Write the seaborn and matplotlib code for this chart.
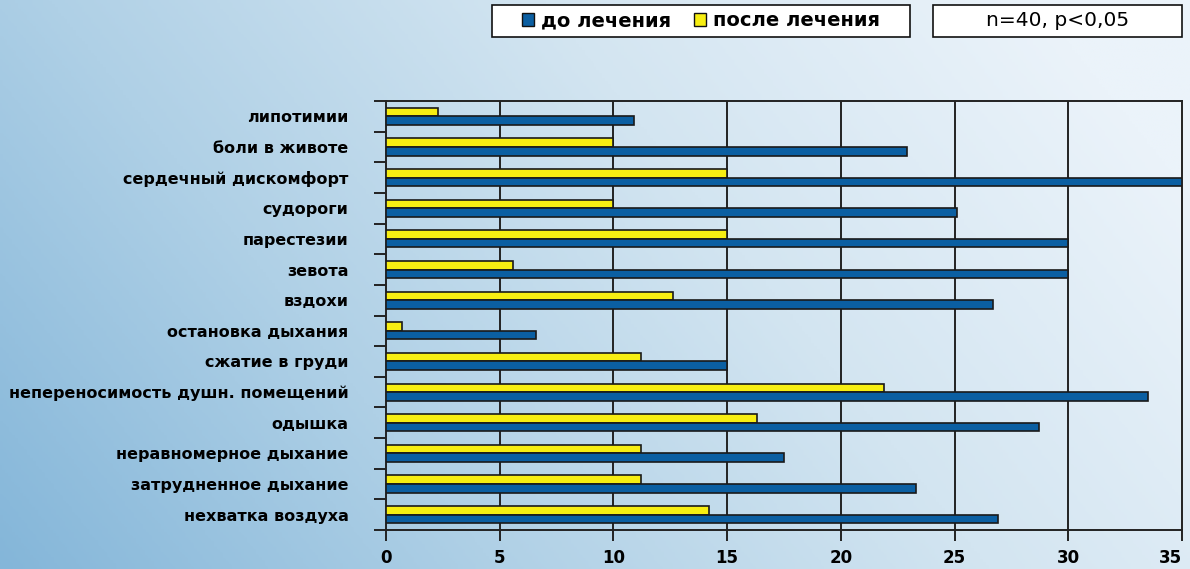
import numpy as np
import pandas as pd
import matplotlib
matplotlib.use("Agg")
import matplotlib.pyplot as plt
import seaborn as sns
from matplotlib.patches import Rectangle, Patch
from matplotlib.colors import LinearSegmentedColormap

categories = [
    "липотимии", "боли в животе", "сердечный дискомфорт", "судороги",
    "парестезии", "зевота", "вздохи", "остановка дыхания", "сжатие в груди",
    "непереносимость душн. помещений", "одышка", "неравномерное дыхание",
    "затрудненное дыхание", "нехватка воздуха",
]
before = [10.9, 22.9, 35.0, 25.1, 30.0, 30.0, 26.7, 6.6, 15.0, 33.5, 28.7, 17.5, 23.3, 26.9]
after = [2.3, 10.0, 15.0, 10.0, 15.0, 5.6, 12.6, 0.7, 11.2, 21.9, 16.3, 11.2, 11.2, 14.2]
series = ["до лечения", "после лечения"]
x_ticks = [0, 5, 10, 15, 20, 25, 30, 35]
note = "n=40, p<0,05"

BLUE = "#0b5fa2"
YELLOW = "#f7ee12"

df = pd.DataFrame({
    "cat": categories * 2,
    "val": before + after,
    "series": [series[0]] * len(categories) + [series[1]] * len(categories),
})

sns.set_theme(style="white")
plt.rcParams["font.family"] = ["DejaVu Sans"]
plt.rcParams["text.color"] = "black"
plt.rcParams["xtick.color"] = "black"
plt.rcParams["ytick.color"] = "black"

fig = plt.figure(figsize=(11.9, 5.69), dpi=100)

# background gradient
bg = fig.add_axes([0, 0, 1, 1], zorder=-10)
gx, gy = np.meshgrid(np.linspace(0, 1, 400), np.linspace(0, 1, 200))
t = np.clip(0.8 * gx + 0.3 * gy, 0, 1)
cmap = LinearSegmentedColormap.from_list("bg", ["#84b6d9", "#afd0e6", "#d3e5f1", "#ebf3fa"])
bg.imshow(t, cmap=cmap, origin="lower", aspect="auto", extent=[0, 1, 0, 1])
bg.axis("off")

ax = fig.add_axes([386 / 1190, 1 - 530 / 569, (1182 - 386) / 1190, (530 - 101) / 569])
ax.patch.set_alpha(0)
sns.barplot(data=df, y="cat", x="val", hue="series", hue_order=[series[1], series[0]],
            order=categories, orient="h", palette={series[0]: BLUE, series[1]: YELLOW},
            width=0.56, edgecolor="#1a1a1a", linewidth=1.2, saturation=1, ax=ax, legend=False,
            zorder=3)

ax.set_xlim(0, 35)
ax.set_ylim(len(categories) - 0.5, -0.5)
ax.set_xticks(x_ticks)
ax.set_xticklabels([str(v) for v in x_ticks], fontsize=12, fontweight="bold")
xt = ax.get_xticklabels()
xt[-1].set_horizontalalignment("right")
xt[-1].set_x(35)
for v in x_ticks[1:-1]:
    ax.axvline(v, color="#222222", lw=1.4, zorder=1)
ax.set_xlabel("")
ax.set_ylabel("")
ax.tick_params(axis="x", direction="out", length=8, width=1.4, color="#222222", pad=6, bottom=True)
ax.tick_params(axis="y", which="major", length=0, pad=27, labelsize=11.5)
for lab in ax.get_yticklabels():
    lab.set_fontweight("bold")
ax.set_yticks(np.arange(-0.5, len(categories), 1.0), minor=True)
ax.tick_params(axis="y", which="minor", direction="out", length=9, width=1.4, color="#222222", left=True)
for s in ax.spines.values():
    s.set_visible(True)
    s.set_color("#222222")
    s.set_linewidth(1.4)

# legend box
fig.add_artist(Rectangle((492 / 1190, 1 - 37 / 569), (910 - 492) / 1190, 32 / 569,
                         transform=fig.transFigure, facecolor="white", edgecolor="#111111", lw=1.2))
handles = [Patch(facecolor=BLUE, edgecolor="#111111", label=series[0]),
           Patch(facecolor=YELLOW, edgecolor="#111111", label=series[1])]
fig.legend(handles=handles, loc="center", bbox_to_anchor=((492 + 910) / 2 / 1190, 1 - 21 / 569),
           ncol=2, frameon=False, handlelength=0.6, handleheight=0.6, handletextpad=0.35,
           columnspacing=1.2, prop={"weight": "bold", "size": 14})

fig.add_artist(Rectangle((933 / 1190, 1 - 37 / 569), (1182 - 933) / 1190, 32 / 569,
                         transform=fig.transFigure, facecolor="white", edgecolor="#111111", lw=1.2))
fig.text((933 + 1182) / 2 / 1190, 1 - 21 / 569, note, ha="center", va="center", fontsize=14.5)

fig.savefig("out.png", dpi=100)
